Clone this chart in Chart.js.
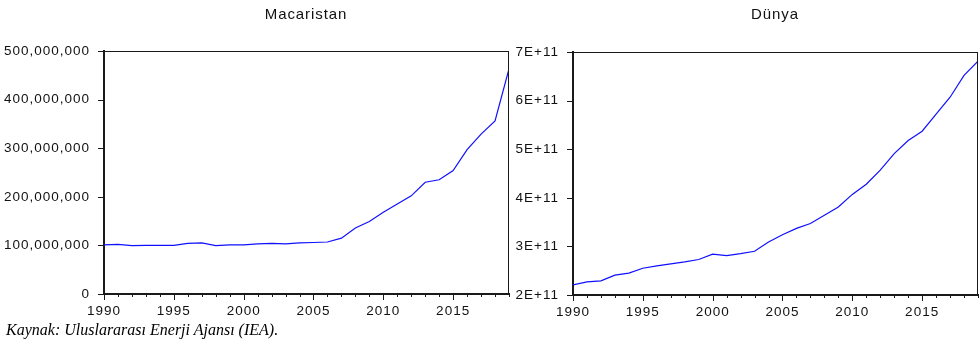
<!DOCTYPE html>
<html>
<head>
<meta charset="utf-8">
<script src="https://cdn.jsdelivr.net/npm/chart.js@4"></script>
<style>
  html, body { margin: 0; padding: 0; background: #fff; }
  body { width: 979px; height: 340px; position: relative; overflow: hidden; }
  .box { position: absolute; top: 0; height: 322px; }
  .title { position: absolute; top: 5px; font: 15px "Liberation Sans", Arial, sans-serif; letter-spacing: 0.9px; color: #111; transform: translateX(-50%); white-space: nowrap; }
  .note { position: absolute; left: 6px; top: 321px; font: italic 16px "Liberation Serif", "Times New Roman", serif; color: #000; white-space: nowrap; }
</style>
</head>
<body>
<div class="box" style="left:0;width:515px"><canvas id="hu"></canvas></div>
<div class="box" style="left:512px;width:467px"><canvas id="wd"></canvas></div>
<div class="title" style="left:306px">Macaristan</div>
<div class="title" style="left:775px">Dünya</div>
<div class="note">Kaynak: Uluslararası Enerji Ajansı (IEA).</div>
<script>
const years = [1990,1991,1992,1993,1994,1995,1996,1997,1998,1999,2000,2001,2002,2003,2004,
               2005,2006,2007,2008,2009,2010,2011,2012,2013,2014,2015,2016,2017,2018,2019];

const hungary = [101e6,102e6,99.5e6,100e6,100e6,100e6,104e6,105e6,99.5e6,101e6,101e6,103e6,104e6,103e6,105e6,
                 106e6,107e6,115e6,136e6,149e6,168e6,185e6,202e6,230e6,235e6,254e6,297e6,329e6,356e6,463e6];

const world = [2.21e11,2.27e11,2.29e11,2.41e11,2.45e11,2.55e11,2.60e11,2.64e11,2.68e11,2.73e11,2.84e11,2.81e11,2.85e11,2.90e11,3.09e11,
               3.24e11,3.37e11,3.47e11,3.64e11,3.81e11,4.07e11,4.28e11,4.57e11,4.91e11,5.18e11,5.37e11,5.72e11,6.07e11,6.52e11,6.81e11];

const huTicks = [0, 100000000, 200000000, 300000000, 400000000, 500000000];
const wdTicks = [2e11, 3e11, 4e11, 5e11, 6e11, 7e11];

const AXIS = '#1a1a1a';
const FONT = { family: '"Liberation Sans", Arial, sans-serif', size: 13.5 };

// frame, tick marks and letter spacing for the tick text
const framePlugin = {
  id: 'frame',
  beforeDraw(chart) { chart.ctx.letterSpacing = '1px'; },
  afterDraw(chart) {
    const ctx = chart.ctx, a = chart.chartArea;
    const xs = chart.scales.x, ys = chart.scales.y;
    ctx.save();
    ctx.strokeStyle = AXIS;
    ctx.lineWidth = 1;
    ctx.beginPath();
    ctx.moveTo(a.left, a.top + 0.5); ctx.lineTo(a.right, a.top + 0.5);
    ctx.moveTo(a.right - 0.5, a.top); ctx.lineTo(a.right - 0.5, a.bottom);
    xs.ticks.forEach(t => {
      const x = Math.round(xs.getPixelForValue(t.value)) + 0.5;
      const len = t.value % 5 === 0 ? 6 : 3;
      ctx.moveTo(x, a.bottom); ctx.lineTo(x, a.bottom + len);
    });
    ys.ticks.forEach(t => {
      const y = Math.round(ys.getPixelForValue(t.value)) + 0.5;
      ctx.moveTo(a.left - 6, y); ctx.lineTo(a.left, y);
    });
    ctx.stroke();
    ctx.restore();
  }
};

function makeChart(id, values, yTicks, fmt, yWidth, bottomHeight, pad) {
  return new Chart(document.getElementById(id), {
    type: 'line',
    data: {
      datasets: [{
        data: years.map((y, i) => ({ x: y, y: values[i] })),
        borderColor: '#1010ff',
        borderWidth: 1.2,
        pointRadius: 0,
        tension: 0,
        fill: false
      }]
    },
    options: {
      responsive: true,
      maintainAspectRatio: false,
      animation: false,
      events: [],
      layout: { padding: pad },
      plugins: { legend: { display: false }, tooltip: { enabled: false }, title: { display: false } },
      scales: {
        x: {
          type: 'linear',
          min: 1990, max: 2019,
          grid: { display: false },
          border: { display: true, color: AXIS, width: 2 },
          afterBuildTicks(s) { s.ticks = years.map(v => ({ value: v })); },
          afterFit(s) { s.height = bottomHeight; s.paddingLeft = 0; s.paddingRight = 0; },
          ticks: {
            autoSkip: false, maxRotation: 0, padding: 1, color: '#111', font: FONT,
            callback: v => (v % 5 === 0 ? String(v) : '')
          }
        },
        y: {
          min: yTicks[0], max: yTicks[yTicks.length - 1],
          grid: { display: false },
          border: { display: true, color: AXIS, width: 2 },
          afterBuildTicks(s) { s.ticks = yTicks.map(v => ({ value: v })); },
          afterFit(s) { s.width = yWidth; },
          ticks: { padding: 6, color: '#111', font: FONT, callback: fmt }
        }
      }
    },
    plugins: [framePlugin]
  });
}

makeChart('hu', hungary, huTicks, v => v.toLocaleString('en-US'), 104, 322 - 294,
          { top: 51, right: 6, left: 0, bottom: 0 });
makeChart('wd', world, wdTicks, v => (v / 1e11) + 'E+11', 61, 322 - 295,
          { top: 52, right: 1, left: 0, bottom: 0 });
</script>
</body>
</html>
